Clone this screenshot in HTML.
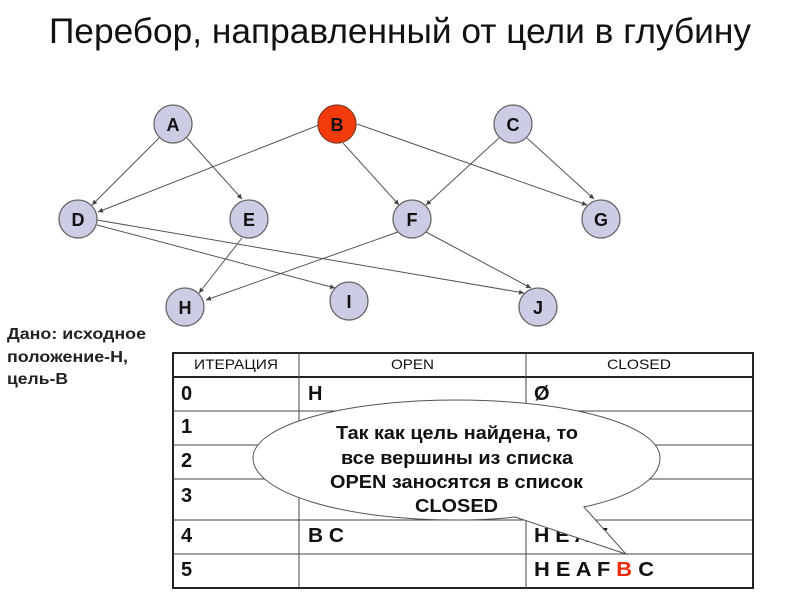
<!DOCTYPE html>
<html><head><meta charset="utf-8"><style>
html,body{margin:0;padding:0;background:#fff}
svg{display:block;filter:blur(.35px)}
text{font-family:"Liberation Sans",sans-serif;fill:#000}
.n{font-weight:bold;font-size:18px;text-anchor:middle;fill:#111}
.c{font-weight:bold;font-size:20px;fill:#111}
.h{font-size:14px;fill:#111}
.l{stroke:#555;stroke-width:1;fill:none;marker-end:url(#a)}
.t{stroke:#222;fill:none}
.o{font-weight:bold;font-size:18px;fill:#111}
</style></head><body>
<svg width="800" height="600" viewBox="0 0 800 600" xmlns="http://www.w3.org/2000/svg">
<defs><marker id="a" markerWidth="6" markerHeight="6" refX="5" refY="2.5" orient="auto" markerUnits="userSpaceOnUse"><path d="M0,0 L5,2.5 L0,5 z" fill="#444"/></marker></defs>
<text x="400" y="43" font-size="35.3" text-anchor="middle" style="fill:#111">Перебор, направленный от цели в глубину</text>

<path class="l" d="M159,138 L92,205"/>
<path class="l" d="M187,138 L242,199"/>
<path class="l" d="M319,125 L98,212"/>
<path class="l" d="M343,143 L399,205"/>
<path class="l" d="M357,124 L587,205"/>
<path class="l" d="M499,138 L426,205"/>
<path class="l" d="M527,138 L594,199"/>
<path class="l" d="M97,225 L335,288"/>
<path class="l" d="M97,220 L524,293"/>
<path class="l" d="M242,238 L199,293"/>
<path class="l" d="M398,232 L206,300"/>
<path class="l" d="M426,232 L531,288"/>

<g fill="#ccccE4" stroke="#666" stroke-width="1.3">
<circle cx="173" cy="124" r="19"/>
<circle cx="337" cy="124" r="19" fill="#f23a0c" stroke="#8a3a20"/>
<circle cx="513" cy="124" r="19"/>
<circle cx="78" cy="219" r="19"/>
<circle cx="249" cy="219" r="19"/>
<circle cx="412" cy="219" r="19"/>
<circle cx="601" cy="219" r="19"/>
<circle cx="185" cy="307" r="19"/>
<circle cx="349" cy="301" r="19"/>
<circle cx="538" cy="307" r="19"/>
</g>
<text class="n" x="173" y="131">A</text>
<text class="n" x="337" y="131">B</text>
<text class="n" x="513" y="131">C</text>
<text class="n" x="78" y="226">D</text>
<text class="n" x="249" y="226">E</text>
<text class="n" x="412" y="226">F</text>
<text class="n" x="601" y="226">G</text>
<text class="n" x="185" y="314">H</text>
<text class="n" x="349" y="308">I</text>
<text class="n" x="538" y="314">J</text>

<g font-size="16" font-weight="bold">
<text x="7" y="339" textLength="139" lengthAdjust="spacingAndGlyphs" style="fill:#222">Дано: исходное</text>
<text x="7" y="362" textLength="121" lengthAdjust="spacingAndGlyphs" style="fill:#222">положение-Н,</text>
<text x="7" y="384" textLength="61" lengthAdjust="spacingAndGlyphs" style="fill:#222">цель-В</text>
</g>

<rect class="t" x="173" y="353" width="580" height="235" stroke-width="2"/>
<path class="t" stroke-width="2" d="M173,377H753"/>
<path class="t" stroke-width="1" d="M299,353V588M526,353V588M173,411H753M173,445H753M173,479H753M173,520H753M173,554H753" style="stroke:#444"/>

<text class="h" x="194" y="369" textLength="84" lengthAdjust="spacingAndGlyphs">ИТЕРАЦИЯ</text>
<text class="h" x="391" y="369" textLength="43" lengthAdjust="spacingAndGlyphs">OPEN</text>
<text class="h" x="607" y="369" textLength="64" lengthAdjust="spacingAndGlyphs">CLOSED</text>

<text class="c" x="181" y="400">0</text>
<text class="c" x="181" y="433">1</text>
<text class="c" x="181" y="467">2</text>
<text class="c" x="181" y="502">3</text>
<text class="c" x="181" y="542">4</text>
<text class="c" x="181" y="576">5</text>
<text class="c" x="308" y="400">H</text>
<text class="c" x="308" y="542" textLength="36" lengthAdjust="spacingAndGlyphs">B C</text>
<text class="c" x="534" y="400">Ø</text>
<text class="c" x="534" y="542" textLength="74" lengthAdjust="spacingAndGlyphs">H E A F</text>
<text class="c" x="534" y="576" textLength="120" lengthAdjust="spacingAndGlyphs">H E A F <tspan style="fill:#ee2a0a">B</tspan> C</text>

<path d="M584,507 C630,497 660,480 660,458 C660,425 570,400 456,400 C345,400 253,425 253,458 C253,492 340,520 456,520 Q490,520 515,517 L626,554 Z" fill="#fff" stroke="#555" stroke-width="1"/>
<text class="o" x="336" y="439" textLength="242" lengthAdjust="spacingAndGlyphs">Так как цель найдена, то</text>
<text class="o" x="341" y="464" textLength="232" lengthAdjust="spacingAndGlyphs">все вершины из списка</text>
<text class="o" x="330" y="488" textLength="253" lengthAdjust="spacingAndGlyphs">OPEN заносятся в список</text>
<text class="o" x="415" y="512" textLength="83" lengthAdjust="spacingAndGlyphs">CLOSED</text>
</svg>
</body></html>
